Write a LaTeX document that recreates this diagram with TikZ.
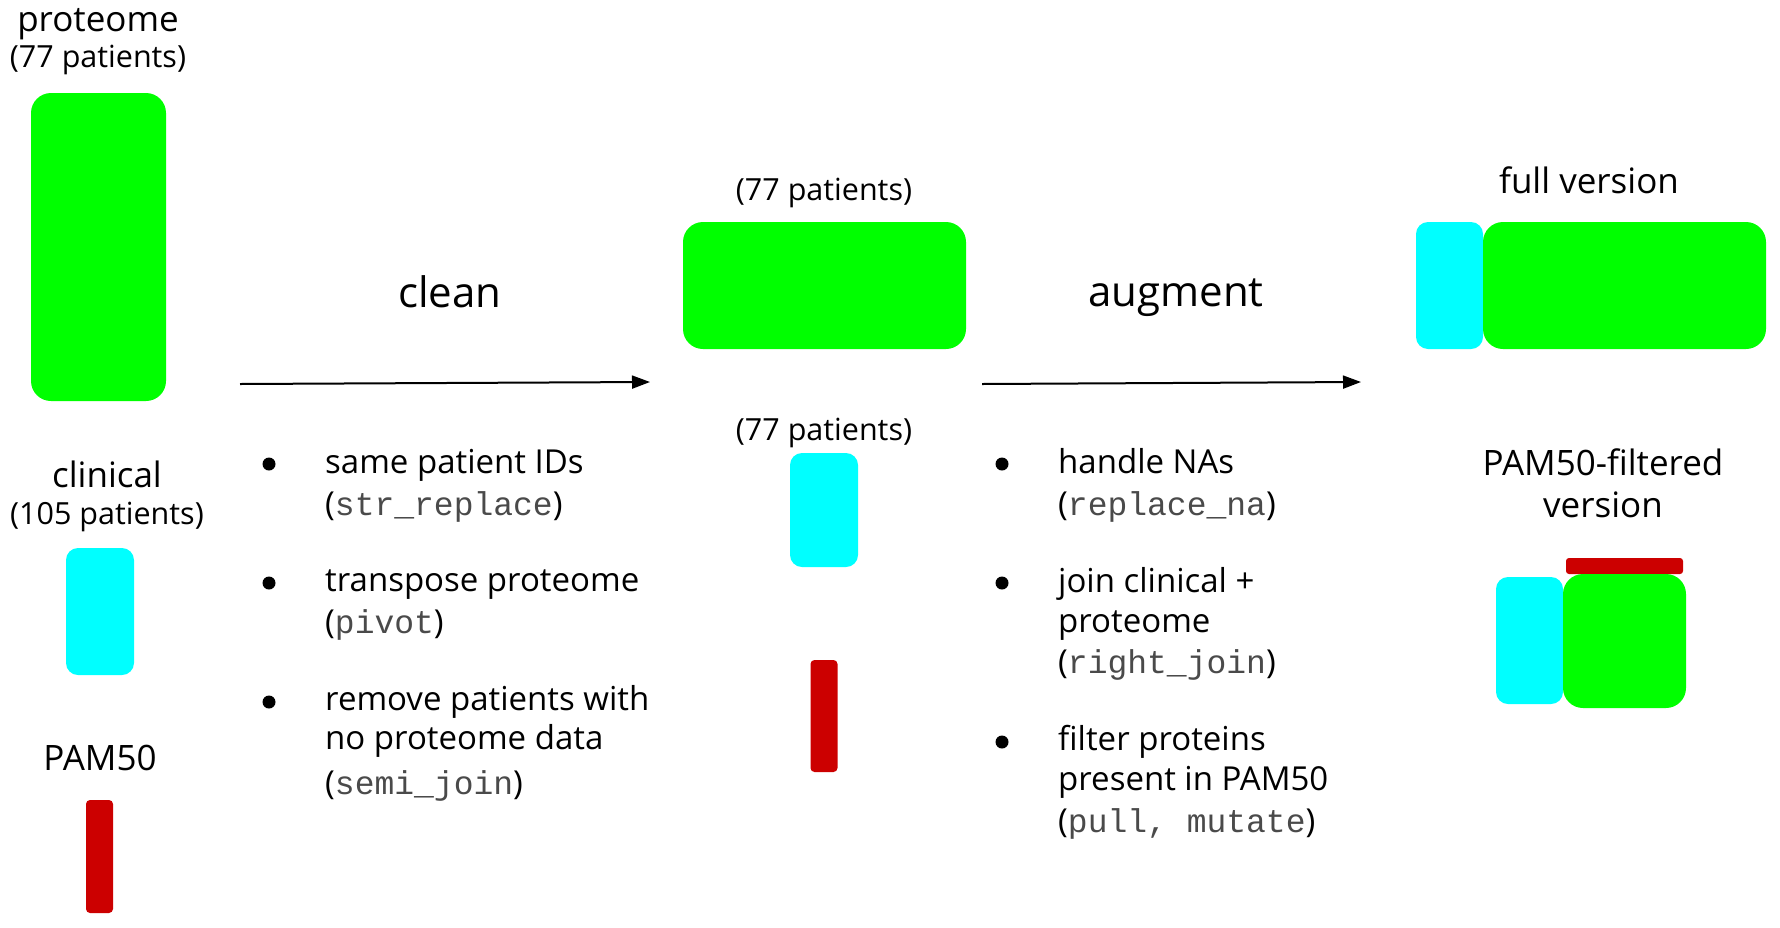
\documentclass[tikz,border=0pt]{standalone}
\usepackage{fontspec}
\setmainfont{Open Sans}
\newfontfamily\codefont{Liberation Mono}
\usetikzlibrary{arrows.meta}
\definecolor{pgreen}{HTML}{00FF00}
\definecolor{pcyan}{HTML}{00FFFF}
\definecolor{pred}{HTML}{CC0000}
\definecolor{codegray}{HTML}{4A4A4A}
\newcommand{\cd}[1]{{\codefont\color{codegray}#1}}
\tikzset{
  blk/.style={rectangle, inner sep=0pt, outer sep=0pt, draw=none},
  gblk/.style={blk, fill=pgreen, rounded corners=20pt},
  cblk/.style={blk, fill=pcyan, rounded corners=12pt},
  rblk/.style={blk, fill=pred, rounded corners=4pt},
  lbl/.style={inner sep=0pt, anchor=base, font=\fontsize{35}{42}\selectfont},
  cnt/.style={inner sep=0pt, anchor=base, font=\fontsize{30.5}{37}\selectfont},
  ttl/.style={inner sep=0pt, anchor=base, font=\fontsize{42}{50}\selectfont},
  itm/.style={inner sep=0pt, anchor=base west, font=\fontsize{33}{39.3}\selectfont},
  dot/.style={circle, fill=black, inner sep=0pt, minimum size=13pt},
  flow/.style={line width=2pt, -{Triangle[length=18pt,width=13pt]}}
}
\begin{document}
\begin{tikzpicture}[x=1pt,y=-1pt]
\useasboundingbox (0,0) rectangle (1780,927);
% left column
\node[lbl] (tProt) at (98,31) {proteome};
\node[cnt] (tProtN) at (98,67) {(77 patients)};
\node[gblk, minimum width=135pt, minimum height=308pt] (protL) at (98.5,247) {};
\node[lbl] (tClin) at (107,487) {clinical};
\node[cnt] (tClinN) at (107,524) {(105 patients)};
\node[cblk, minimum width=68pt, minimum height=127pt] (clinL) at (100,611.5) {};
\node[lbl] (tPam) at (100,770) {PAM50};
\node[rblk, minimum width=27pt, minimum height=113pt] (pamL) at (99.5,856.5) {};
% clean step
\node[ttl] (tClean) at (450,307) {clean};
\coordinate (c1s) at (240,384);
\coordinate (c1e) at (650,382);
\draw[flow] (c1s) -- (c1e);
\node[dot] (b1) at (269,464) {};
\node[dot] (b2) at (269,583) {};
\node[dot] (b3) at (269,702) {};
\node[itm] (i1a) at (325,473) {same patient IDs};
\node[itm] (i1b) at (325,515) {(\cd{str\_replace})};
\node[itm] (i2a) at (325,591) {transpose proteome};
\node[itm] (i2b) at (325,633) {(\cd{pivot})};
\node[itm] (i3a) at (325,710) {remove patients with};
\node[itm] (i3b) at (325,749) {no proteome data};
\node[itm] (i3c) at (325,794) {(\cd{semi\_join})};
% middle column
\node[cnt] (tMidN1) at (824,200) {(77 patients)};
\node[gblk, minimum width=283pt, minimum height=127pt] (protM) at (824.5,285.5) {};
\node[cnt] (tMidN2) at (824,440) {(77 patients)};
\node[cblk, minimum width=68pt, minimum height=114pt] (clinM) at (824,510) {};
\node[rblk, minimum width=27pt, minimum height=112pt] (pamM) at (824,716) {};
% augment step
\node[ttl] (tAug) at (1176,306) {augment};
\coordinate (c2s) at (982,384);
\coordinate (c2e) at (1361,382);
\draw[flow] (c2s) -- (c2e);
\node[dot] (b4) at (1002,464) {};
\node[dot] (b5) at (1002,583) {};
\node[dot] (b6) at (1002,742) {};
\node[itm] (i4a) at (1058,473) {handle NAs};
\node[itm] (i4b) at (1058,515) {(\cd{replace\_na})};
\node[itm] (i5a) at (1058,592) {join clinical +};
\node[itm] (i5b) at (1058,632) {proteome};
\node[itm] (i5c) at (1058,673) {(\cd{right\_join})};
\node[itm] (i6a) at (1058,750) {filter proteins};
\node[itm] (i6b) at (1058,790) {present in PAM50};
\node[itm] (i6c) at (1058,832) {(\cd{pull, mutate})};
% right column
\node[lbl] (tFull) at (1589,193) {full version};
\node[cblk, minimum width=67pt, minimum height=127pt] (clinF) at (1449.5,285.5) {};
\node[gblk, minimum width=283pt, minimum height=127pt] (protF) at (1624.5,285.5) {};
\node[lbl] (tFilt) at (1603,475) {PAM50-filtered};
\node[lbl] (tFilt2) at (1603,517) {version};
\node[rblk, rounded corners=3pt, minimum width=117pt, minimum height=16pt] (pamP) at (1624.5,566) {};
\node[cblk, minimum width=67pt, minimum height=127pt] (clinP) at (1529.5,640.5) {};
\node[gblk, minimum width=123pt, minimum height=134pt] (protP) at (1624.5,641) {};
\end{tikzpicture}
\end{document}
